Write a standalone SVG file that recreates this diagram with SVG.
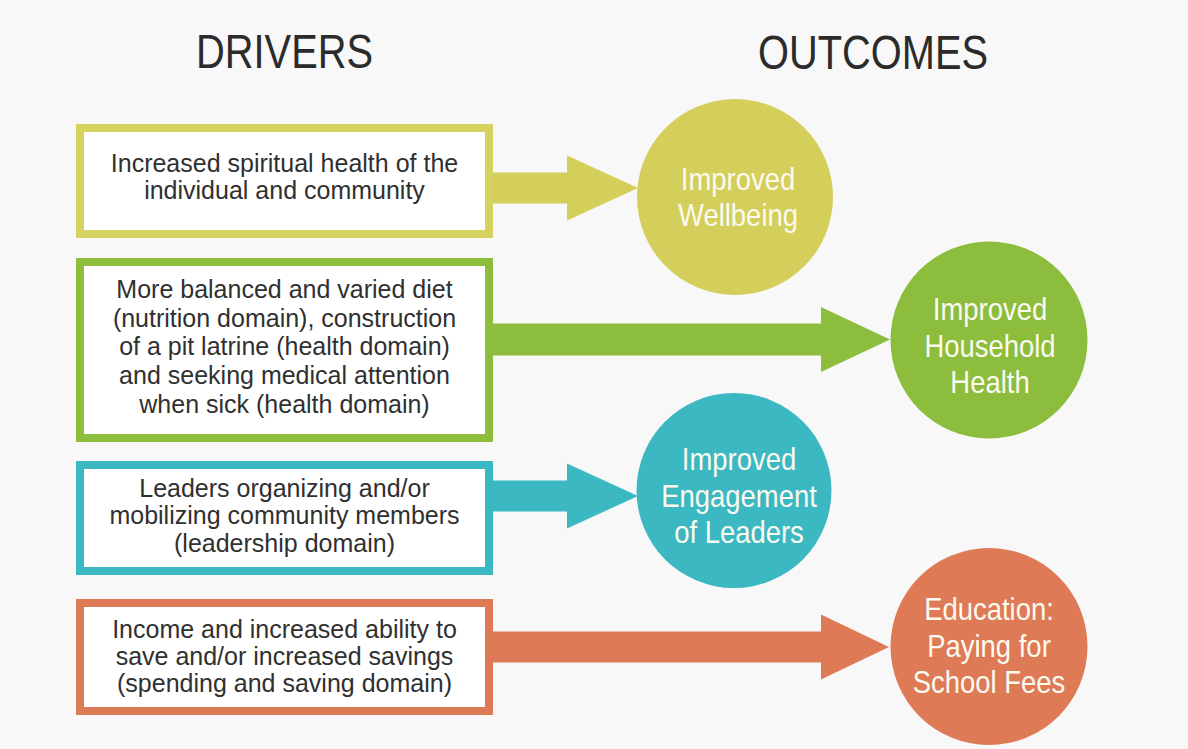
<svg xmlns="http://www.w3.org/2000/svg" width="1188" height="749" viewBox="0 0 1188 749">
<style>
.hdr{font-family:"Liberation Sans",Arial,sans-serif;font-size:48px;fill:#2b2b2b;text-anchor:middle}
.body{font-family:"Liberation Sans",Arial,sans-serif;font-size:25px;fill:#303030;text-anchor:middle}
.ctext{font-family:"Liberation Sans",Arial,sans-serif;font-size:30.5px;fill:#fbfaf0;text-anchor:middle}
.box{fill:#ffffff;stroke-width:8}
.y{fill:#d4ce5b}.ys{stroke:#d5d260}
.g{fill:#8dbd3d}.gs{stroke:#8dbd3d}
.t{fill:#3bb8c2}.ts{stroke:#3bb8c2}
.o{fill:#df7a56}.os{stroke:#df7a56}
</style>
<rect x="0" y="0" width="1188" height="749" fill="#f8f8f8"/>
<g id="headers">
<text class="hdr" x="284.5" y="68" textLength="177" lengthAdjust="spacingAndGlyphs">DRIVERS</text>
<text class="hdr" x="873" y="69" textLength="230" lengthAdjust="spacingAndGlyphs">OUTCOMES</text>
</g>
<g id="connectors">
<polygon class="y" points="489,172.5 567,172.5 567,155.5 638,188 567,220.5 567,203.5 489,203.5"/>
<polygon class="g" points="489,323.5 821,323.5 821,307 890,339.5 821,372 821,355.5 489,355.5"/>
<polygon class="t" points="489,480.5 567,480.5 567,463.5 638,496 567,528.5 567,511.5 489,511.5"/>
<polygon class="o" points="489,631.5 821,631.5 821,614.5 889,647 821,679.5 821,662.5 489,662.5"/>
</g>
<g id="driver1">
<rect class="box ys" x="80" y="128" width="409" height="106"/>
<text class="body" x="284.5" y="172">Increased spiritual health of the</text>
<text class="body" x="284.5" y="199">individual and community</text>
</g>
<g id="driver2">
<rect class="box gs" x="80" y="262" width="409" height="176"/>
<text class="body" x="284.5" y="298">More balanced and varied diet</text>
<text class="body" x="284.5" y="327">(nutrition domain), construction</text>
<text class="body" x="284.5" y="355">of a pit latrine (health domain)</text>
<text class="body" x="284.5" y="384">and seeking medical attention</text>
<text class="body" x="284.5" y="413">when sick (health domain)</text>
</g>
<g id="driver3">
<rect class="box ts" x="80" y="465" width="409" height="106"/>
<text class="body" x="284.5" y="497">Leaders organizing and/or</text>
<text class="body" x="284.5" y="524">mobilizing community members</text>
<text class="body" x="284.5" y="552">(leadership domain)</text>
</g>
<g id="driver4">
<rect class="box os" x="80" y="603" width="409" height="108"/>
<text class="body" x="284.5" y="638">Income and increased ability to</text>
<text class="body" x="284.5" y="665">save and/or increased savings</text>
<text class="body" x="284.5" y="692">(spending and saving domain)</text>
</g>
<g id="outcome1">
<circle class="y" cx="735" cy="197" r="98"/>
<text class="ctext" transform="translate(738 190) scale(0.9 1)">Improved</text>
<text class="ctext" transform="translate(738 226) scale(0.9 1)">Wellbeing</text>
</g>
<g id="outcome2">
<circle class="g" cx="989" cy="340" r="98.5"/>
<text class="ctext" transform="translate(990 320) scale(0.9 1)">Improved</text>
<text class="ctext" transform="translate(990 356.5) scale(0.9 1)">Household</text>
<text class="ctext" transform="translate(990 393) scale(0.9 1)">Health</text>
</g>
<g id="outcome3">
<circle class="t" cx="734" cy="490.5" r="97.5"/>
<text class="ctext" transform="translate(739 470) scale(0.9 1)">Improved</text>
<text class="ctext" transform="translate(739 506.5) scale(0.9 1)">Engagement</text>
<text class="ctext" transform="translate(739 543) scale(0.9 1)">of Leaders</text>
</g>
<g id="outcome4">
<circle class="o" cx="989" cy="646.5" r="98.5"/>
<text class="ctext" transform="translate(989 620) scale(0.9 1)">Education:</text>
<text class="ctext" transform="translate(989 656.5) scale(0.9 1)">Paying for</text>
<text class="ctext" transform="translate(989 693) scale(0.9 1)">School Fees</text>
</g>
</svg>
